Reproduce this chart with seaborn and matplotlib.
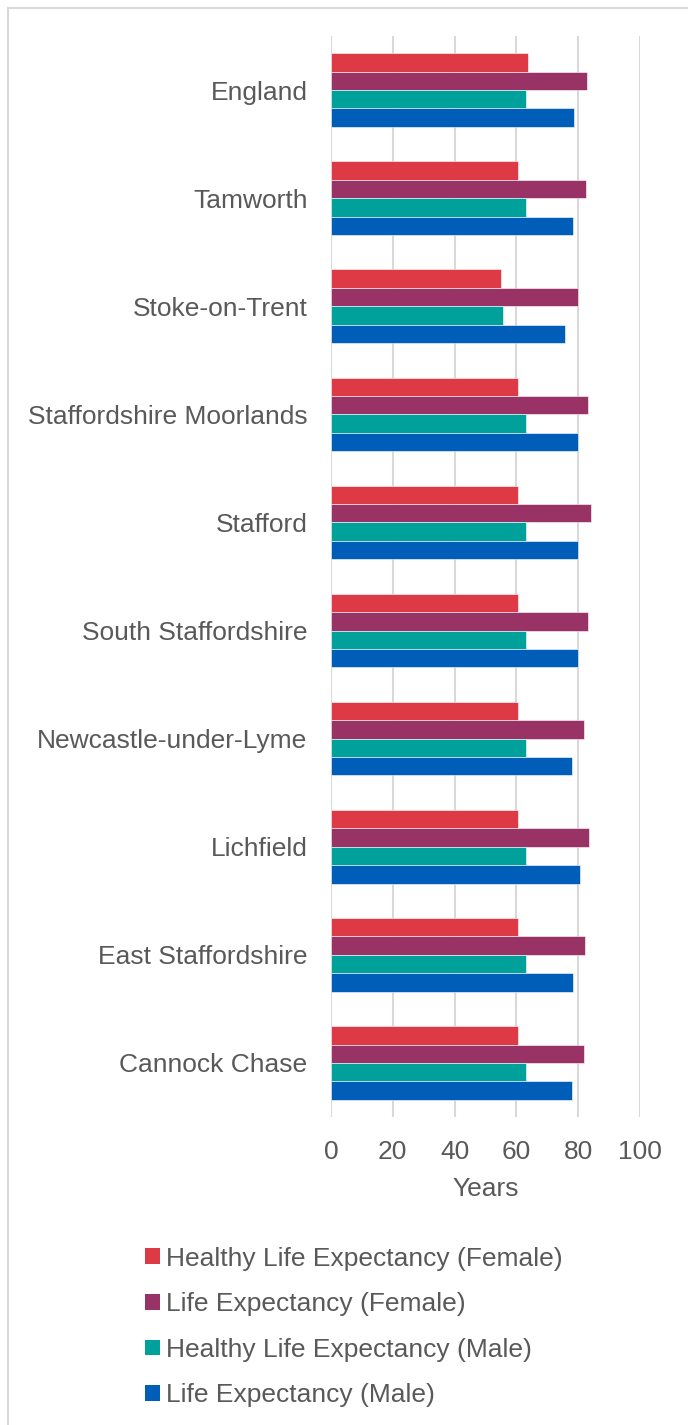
import matplotlib
matplotlib.use("Agg")
import matplotlib.pyplot as plt
from matplotlib.patches import Rectangle, Patch
import seaborn as sns
import pandas as pd

areas = ["England", "Tamworth", "Stoke-on-Trent", "Staffordshire Moorlands",
         "Stafford", "South Staffordshire", "Newcastle-under-Lyme",
         "Lichfield", "East Staffordshire", "Cannock Chase"]
series = ["Healthy Life Expectancy (Female)", "Life Expectancy (Female)",
          "Healthy Life Expectancy (Male)", "Life Expectancy (Male)"]
hle_female = [63.9, 60.6, 54.9, 60.6, 60.6, 60.6, 60.6, 60.6, 60.6, 60.6]
le_female = [82.8, 82.4, 79.9, 83.2, 84.0, 83.3, 82.0, 83.4, 82.1, 81.8]
hle_male = [63.0, 63.0, 55.8, 63.0, 63.0, 63.0, 63.0, 63.0, 63.0, 63.0]
le_male = [78.8, 78.4, 75.6, 80.0, 80.0, 79.9, 78.1, 80.5, 78.2, 77.9]
colors = ["#DE3A45", "#993366", "#00A19A", "#005EB8"]
xticks = [0, 20, 40, 60, 80, 100]

rows = []
for s, vals in zip(series, [hle_female, le_female, hle_male, le_male]):
    for a, v in zip(areas, vals):
        rows.append({"Area": a, "Series": s, "Years": v})
df = pd.DataFrame(rows)

sns.set_theme(style="white")
plt.rcParams["font.family"] = ["Liberation Sans", "DejaVu Sans"]
txt = "#595959"
FS = 19

fig = plt.figure(figsize=(6.88, 14.25), dpi=100)
W, H = 688, 1425
ax = fig.add_axes([331 / W, 1 - 1117 / H, (640 - 331) / W, (1117 - 36) / H])

sns.barplot(data=df, y="Area", x="Years", hue="Series", order=areas,
            hue_order=series, palette=colors, orient="h", width=0.68,
            gap=0, saturation=1, ax=ax, legend=False,
            edgecolor="#ffffff", linewidth=0.4)

ax.set_xlim(0, 100)
ax.set_ylim(9.5, -0.5)
ax.set_xticks(xticks)
ax.set_xticklabels([str(t) for t in xticks])
ax.grid(axis="x", color="#D9D9D9", linewidth=1.5)
ax.grid(axis="y", visible=False)
ax.set_axisbelow(True)
for sp in ax.spines.values():
    sp.set_visible(False)
ax.tick_params(axis="x", length=0, pad=16.5, labelsize=FS, labelcolor=txt)
ax.tick_params(axis="y", length=0, pad=17, labelsize=FS, labelcolor=txt)
ax.set_ylabel("")
ax.set_xlabel("Years", fontsize=FS, color=txt, labelpad=9.5)

handles = [Patch(facecolor=c, edgecolor="none") for c in colors]
fig.legend(handles, series, loc="center left",
           bbox_to_anchor=(145 / W, 1 - 1327 / H), frameon=False,
           fontsize=FS, labelcolor=txt, handlelength=0.55, handleheight=0.55,
           handletextpad=0.25, labelspacing=0.82, borderpad=0, borderaxespad=0)

fig.patches.append(Rectangle((7.5 / W, -0.1), 1.0, 1.1 - 7.5 / H,
                             transform=fig.transFigure, fill=False,
                             edgecolor="#D9D9D9", linewidth=1.5))

fig.savefig("out.png", dpi=100)
